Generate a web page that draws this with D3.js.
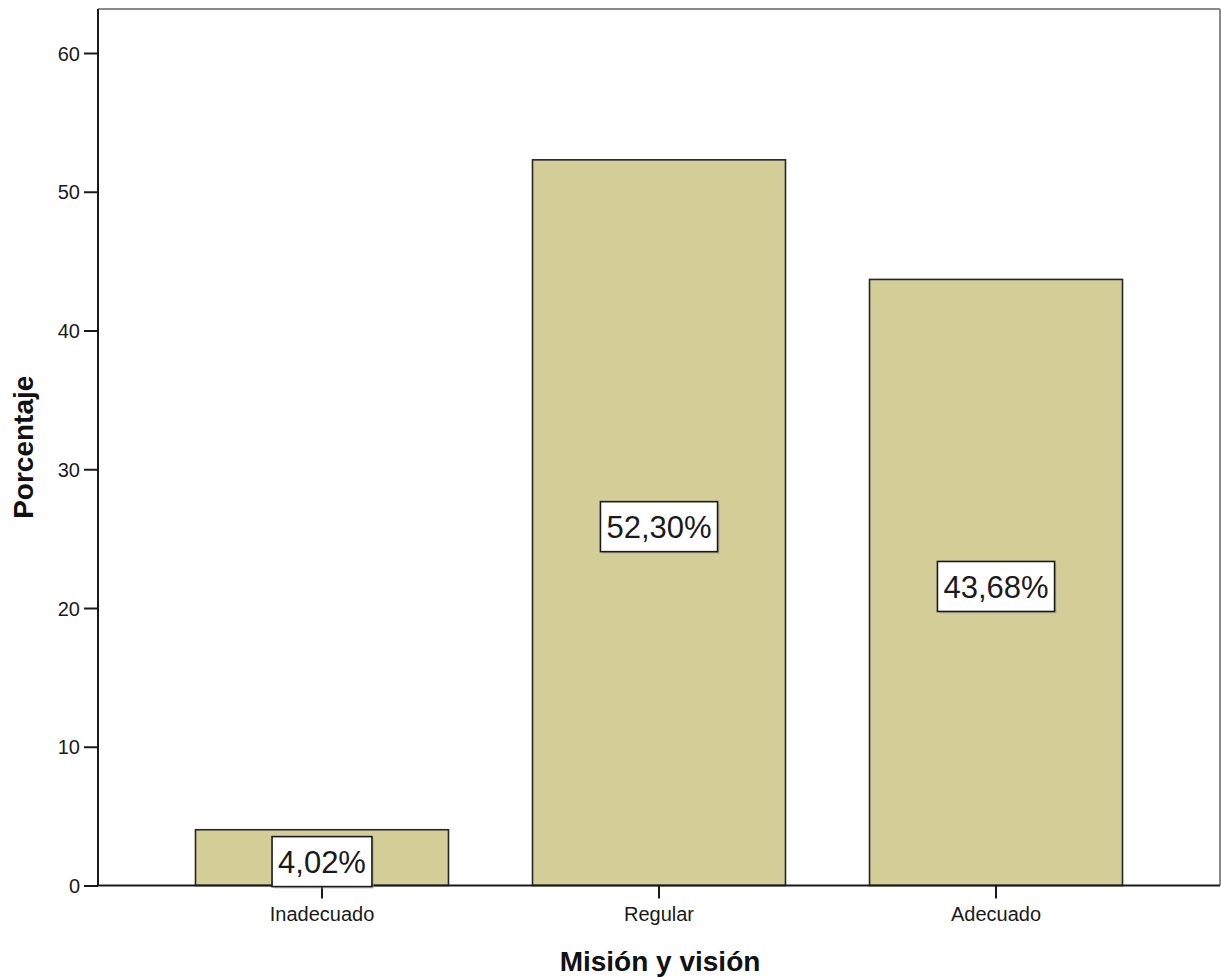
<!DOCTYPE html>
<html>
<head>
<meta charset="utf-8">
<script src="https://cdn.jsdelivr.net/npm/d3@7"></script>
<style>
  html, body { margin: 0; padding: 0; background: #fff; }
  svg { display: block; }
  text { font-family: Arial, "Liberation Sans", sans-serif; }
</style>
</head>
<body>
<svg id="chart" width="1221" height="977"></svg>
<script>
const categories = ["Inadecuado", "Regular", "Adecuado"];
const values = [4.02, 52.30, 43.68];
const valueLabels = ["4,02%", "52,30%", "43,68%"];
const yTicks = [0, 10, 20, 30, 40, 50, 60];
const xTitle = "Misión y visión";
const yTitle = "Porcentaje";

const svg = d3.select("#chart");
const mLeft = 98, mRight = 1220, mTop = 9, mBottom = 885.5;

const x = d3.scaleBand()
  .domain(categories)
  .range([mLeft, mRight])
  .paddingInner(0.2493)
  .paddingOuter(0.2893);

const y = d3.scaleLinear()
  .domain([0, 60])
  .range([mBottom, 53]);

// frame (top & right, gray)
svg.append("line").attr("x1", mLeft).attr("x2", mRight).attr("y1", mTop).attr("y2", mTop)
  .attr("stroke", "#8a8a8a").attr("stroke-width", 2);
svg.append("line").attr("x1", mRight).attr("x2", mRight).attr("y1", mTop).attr("y2", mBottom)
  .attr("stroke", "#8a8a8a").attr("stroke-width", 2);

// bars
svg.append("g").selectAll("rect")
  .data(categories)
  .join("rect")
  .attr("x", d => x(d))
  .attr("width", x.bandwidth())
  .attr("y", (d, i) => y(values[i]))
  .attr("height", (d, i) => y(0) - y(values[i]))
  .attr("fill", "#d3ce97")
  .attr("stroke", "#262626")
  .attr("stroke-width", 1.6);

// y axis
const yAxis = svg.append("g")
  .attr("transform", `translate(${mLeft},0)`)
  .call(d3.axisLeft(y).tickValues(yTicks).tickSize(14).tickPadding(4).tickSizeOuter(0));
yAxis.select(".domain").attr("stroke", "#1a1a1a").attr("stroke-width", 2)
  .attr("d", `M0,${mTop}V${mBottom}`);
yAxis.selectAll(".tick line").attr("stroke", "#1a1a1a").attr("stroke-width", 2);
yAxis.selectAll(".tick text").attr("font-size", 20).attr("fill", "#1a1a1a")
  .attr("font-family", "Arial, 'Liberation Sans', sans-serif").attr("dy", "0.35em");

// x axis
const xAxis = svg.append("g")
  .attr("transform", `translate(0,${mBottom})`)
  .call(d3.axisBottom(x).tickSize(13).tickPadding(8).tickSizeOuter(0));
xAxis.select(".domain").attr("stroke", "#1a1a1a").attr("stroke-width", 2)
  .attr("d", `M${mLeft},0H${mRight}`);
xAxis.selectAll(".tick line").attr("stroke", "#1a1a1a").attr("stroke-width", 2);
xAxis.selectAll(".tick text").attr("font-size", 20).attr("fill", "#1a1a1a")
  .attr("font-family", "Arial, 'Liberation Sans', sans-serif");

// value labels
const fontSize = 31;
const lg = svg.append("g").selectAll("g")
  .data(categories)
  .join("g")
  .attr("transform", (d, i) => {
    const cx = x(d) + x.bandwidth() / 2;
    const cy = (y(values[i]) + y(0)) / 2 + 4;
    return `translate(${cx},${cy})`;
  });
lg.each(function(d, i) {
  const g = d3.select(this);
  const shadow = g.append("rect").attr("fill", "#9a9a9a").attr("opacity", 0.45);
  const box = g.append("rect").attr("fill", "#fff").attr("stroke", "#1a1a1a").attr("stroke-width", 1.6);
  const t = g.append("text")
    .attr("text-anchor", "middle")
    .attr("dy", "0.36em")
    .attr("font-size", fontSize)
    .attr("fill", "#1a1a1a")
    .text(valueLabels[i]);
  const w = t.node().getComputedTextLength() + 12;
  const h = 50;
  box.attr("x", -w / 2).attr("y", -h / 2).attr("width", w).attr("height", h);
  shadow.attr("x", -w / 2 + 2).attr("y", -h / 2 + 2).attr("width", w).attr("height", h);
});

// axis titles
svg.append("text")
  .attr("x", (mLeft + mRight) / 2 + 1)
  .attr("y", 971)
  .attr("text-anchor", "middle")
  .attr("font-size", 28)
  .attr("font-weight", "bold")
  .attr("fill", "#111")
  .text(xTitle);

svg.append("text")
  .attr("transform", `translate(33,${(mTop + mBottom) / 2}) rotate(-90)`)
  .attr("text-anchor", "middle")
  .attr("font-size", 28)
  .attr("font-weight", "bold")
  .attr("fill", "#111")
  .text(yTitle);
</script>
</body>
</html>
